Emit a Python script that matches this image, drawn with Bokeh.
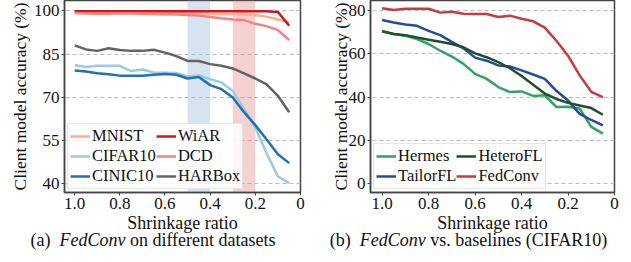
from bokeh.plotting import figure
from bokeh.models import Range1d, FixedTicker, BoxAnnotation, Legend, LegendItem, Div
from bokeh.layouts import column, row
from bokeh.embed import file_html
from bokeh.resources import INLINE

ratio = [1.0, 0.95, 0.9, 0.85, 0.8, 0.75, 0.7, 0.65, 0.6, 0.55,
         0.5, 0.45, 0.4, 0.35, 0.3, 0.25, 0.2, 0.15, 0.1, 0.05]

# Panel (a): FedConv on different datasets
mnist = [99.6, 99.5, 99.5, 99.4, 99.4, 99.4, 99.3, 99.3, 99.3, 99.3,
         99.3, 99.2, 99.0, 98.9, 98.8, 98.7, 98.5, 98.0, 97.0, 96.0]
wiar = [99.9, 99.9, 99.9, 99.9, 99.9, 99.9, 99.9, 99.9, 99.9, 99.9,
        99.9, 99.9, 99.9, 99.9, 99.9, 99.9, 99.9, 99.9, 99.6, 94.8]
dcd = [99.3, 99.1, 99.0, 99.0, 99.2, 99.1, 99.0, 98.9, 98.8, 98.7,
       98.6, 98.4, 97.9, 97.4, 97.0, 96.8, 95.5, 94.7, 93.3, 89.9]
cifar10 = [81.2, 80.5, 80.9, 80.9, 80.9, 79.1, 79.6, 78.6, 78.5, 78.4,
           77.2, 77.6, 76.3, 75.1, 72.2, 66.0, 59.4, 50.5, 42.5, 40.2]
cinic10 = [79.3, 78.9, 78.3, 78.0, 77.5, 77.5, 77.5, 77.8, 78.1, 77.8,
           76.5, 77.0, 74.2, 72.8, 69.9, 64.8, 60.3, 55.3, 50.2, 47.1]
harbox = [88.0, 86.6, 86.1, 87.0, 86.4, 86.1, 86.1, 86.5, 85.5, 84.3,
          82.6, 82.6, 81.5, 80.9, 80.0, 78.3, 76.5, 74.5, 70.5, 64.8]

# Panel (b): FedConv vs. baselines (CIFAR10)
hermes = [70.5, 69.2, 68.4, 66.9, 64.6, 61.5, 58.8, 55.4, 50.8, 48.5,
          44.7, 42.4, 42.7, 40.6, 40.9, 35.5, 35.6, 34.8, 26.3, 23.2]
tailorfl = [75.7, 74.5, 73.6, 73.0, 70.7, 68.7, 65.6, 62.6, 58.3, 56.9,
            54.7, 54.2, 52.4, 50.5, 48.5, 43.0, 38.5, 32.3, 29.5, 27.0]
heterofl = [70.5, 69.2, 68.7, 67.6, 66.6, 65.6, 64.6, 63.1, 60.3, 58.5,
            56.2, 53.4, 49.8, 45.8, 41.7, 39.2, 37.4, 36.2, 35.0, 31.9]
fedconv = [81.1, 80.3, 80.9, 80.9, 80.9, 79.1, 79.5, 78.6, 78.5, 78.5,
           77.1, 77.7, 76.3, 75.1, 72.2, 66.1, 59.2, 50.1, 42.5, 40.1]

x_ticks = [1.0, 0.8, 0.6, 0.4, 0.2, 0.0]
x_tick_labels = {1.0: "1.0", 0.8: "0.8", 0.6: "0.6", 0.4: "0.4", 0.2: "0.2", 0.0: "0"}
ya_ticks = [40, 55, 70, 85, 100]
yb_ticks = [0, 20, 40, 60, 80]

FONT = "'Liberation Serif'"
FRAME_H = 192


def style(p, yticks):
    p.xaxis.ticker = FixedTicker(ticks=x_ticks)
    p.xaxis.major_label_overrides = x_tick_labels
    p.yaxis.ticker = FixedTicker(ticks=yticks)
    for ax in (p.xaxis, p.yaxis):
        ax.major_label_text_font = FONT
        ax.major_label_text_font_size = "17px"
        ax.major_label_text_color = "#111111"
        ax.axis_label_text_font = FONT
        ax.axis_label_text_font_size = "18px"
        ax.axis_label_text_font_style = "normal"
        ax.axis_label_text_color = "#111111"
        ax.axis_line_color = "#444444"
        ax.axis_line_width = 1.5
        ax.major_tick_line_color = "#444444"
        ax.major_tick_out = 3
        ax.major_tick_in = 0
        ax.minor_tick_line_color = None
        ax.major_label_standoff = 2
        ax.axis_label_standoff = 1
    p.yaxis.axis_label_text_font_size = "17.5px"
    p.xaxis.axis_label = "Shrinkage ratio"
    p.yaxis.axis_label = "Client model accuracy (%)"
    p.xgrid.grid_line_color = None
    p.ygrid.grid_line_color = "#bbbbbb"
    p.ygrid.grid_line_dash = "4 3"
    p.ygrid.grid_line_width = 1
    p.outline_line_color = "#444444"
    p.outline_line_width = 1.5
    p.outline_line_alpha = 1
    p.background_fill_color = "white"
    p.border_fill_color = "white"


pa = figure(width=306, height=FRAME_H + 44, output_backend="svg", toolbar_location=None,
            x_range=Range1d(1.045, 0.0), y_range=Range1d(36.9, 103.6),
            min_border_left=64, min_border_right=6, min_border_top=0, min_border_bottom=44)
style(pa, ya_ticks)
pa.add_layout(BoxAnnotation(left=0.4, right=0.5, fill_color="#98bbdc", fill_alpha=0.4, line_color=None, level="underlay"))
pa.add_layout(BoxAnnotation(left=0.2, right=0.3, fill_color="#e68e8e", fill_alpha=0.4, line_color=None, level="underlay"))

W = 2.5
ra = {}
ra["MNIST"] = pa.line(ratio, mnist, line_color="#fcae91", line_width=W)
ra["CIFAR10"] = pa.line(ratio, cifar10, line_color="#9ecae1", line_width=W)
ra["CINIC10"] = pa.line(ratio, cinic10, line_color="#2171b5", line_width=W)
ra["WiAR"] = pa.line(ratio, wiar, line_color="#cb181d", line_width=W)
ra["DCD"] = pa.line(ratio, dcd, line_color="#f88080", line_width=W)
ra["HARBox"] = pa.line(ratio, harbox, line_color="#636363", line_width=W)

order_a = ["MNIST", "CIFAR10", "CINIC10", "WiAR", "DCD", "HARBox"]
leg_a = Legend(items=[LegendItem(label=k, renderers=[ra[k]]) for k in order_a],
               location="bottom_left", nrows=3, orientation="vertical")

pb = figure(width=325, height=FRAME_H + 44, output_backend="svg", toolbar_location=None,
            x_range=Range1d(1.05, 0.0), y_range=Range1d(-4.0, 84.7),
            min_border_left=64, min_border_right=17, min_border_top=0, min_border_bottom=44)
style(pb, yb_ticks)
pb.yaxis.axis_label_standoff = -5
rb = {}
rb["Hermes"] = pb.line(ratio, hermes, line_color="#35a162", line_width=W)
rb["TailorFL"] = pb.line(ratio, tailorfl, line_color="#234c9c", line_width=W)
rb["HeteroFL"] = pb.line(ratio, heterofl, line_color="#1b4f30", line_width=W)
rb["FedConv"] = pb.line(ratio, fedconv, line_color="#c93a3b", line_width=W)

order_b = ["Hermes", "TailorFL", "HeteroFL", "FedConv"]
leg_b = Legend(items=[LegendItem(label=k, renderers=[rb[k]]) for k in order_b],
               location="bottom_left", nrows=2, orientation="vertical")

for p, lg in ((pa, leg_a), (pb, leg_b)):
    lg.label_text_font = FONT
    lg.label_text_font_size = "16.5px"
    lg.label_text_color = "#111111"
    lg.glyph_width = 20
    lg.glyph_height = 18
    lg.label_height = 18
    lg.label_standoff = 2
    lg.spacing = 0
    lg.padding = 2
    lg.margin = 3
    lg.border_line_color = "#cccccc"
    lg.border_line_width = 1
    lg.background_fill_alpha = 0.85
    lg.item_background_fill_alpha = 0
    p.add_layout(lg)

cap_style = {"font-family": "'Liberation Serif'", "font-size": "18px", "color": "#111111",
             "text-align": "center", "width": "100%", "line-height": "20px"}
inner = '<div style="position:relative; top:-6px;">%s</div>'
cap_a = Div(text=inner % "(a)&nbsp;&nbsp;<i>FedConv</i> on different datasets", width=306, height=24,
            styles=cap_style, margin=(0, 0, 0, 0))
cap_b = Div(text=inner % "(b)&nbsp;&nbsp;<i>FedConv</i> vs. baselines (CIFAR10)", width=325, height=24,
            styles=cap_style, margin=(0, 0, 0, 0))

layout = column(row(pa, pb, spacing=0), row(cap_a, cap_b, spacing=0), spacing=0)

open("out.html", "w").write(file_html(layout, INLINE))
